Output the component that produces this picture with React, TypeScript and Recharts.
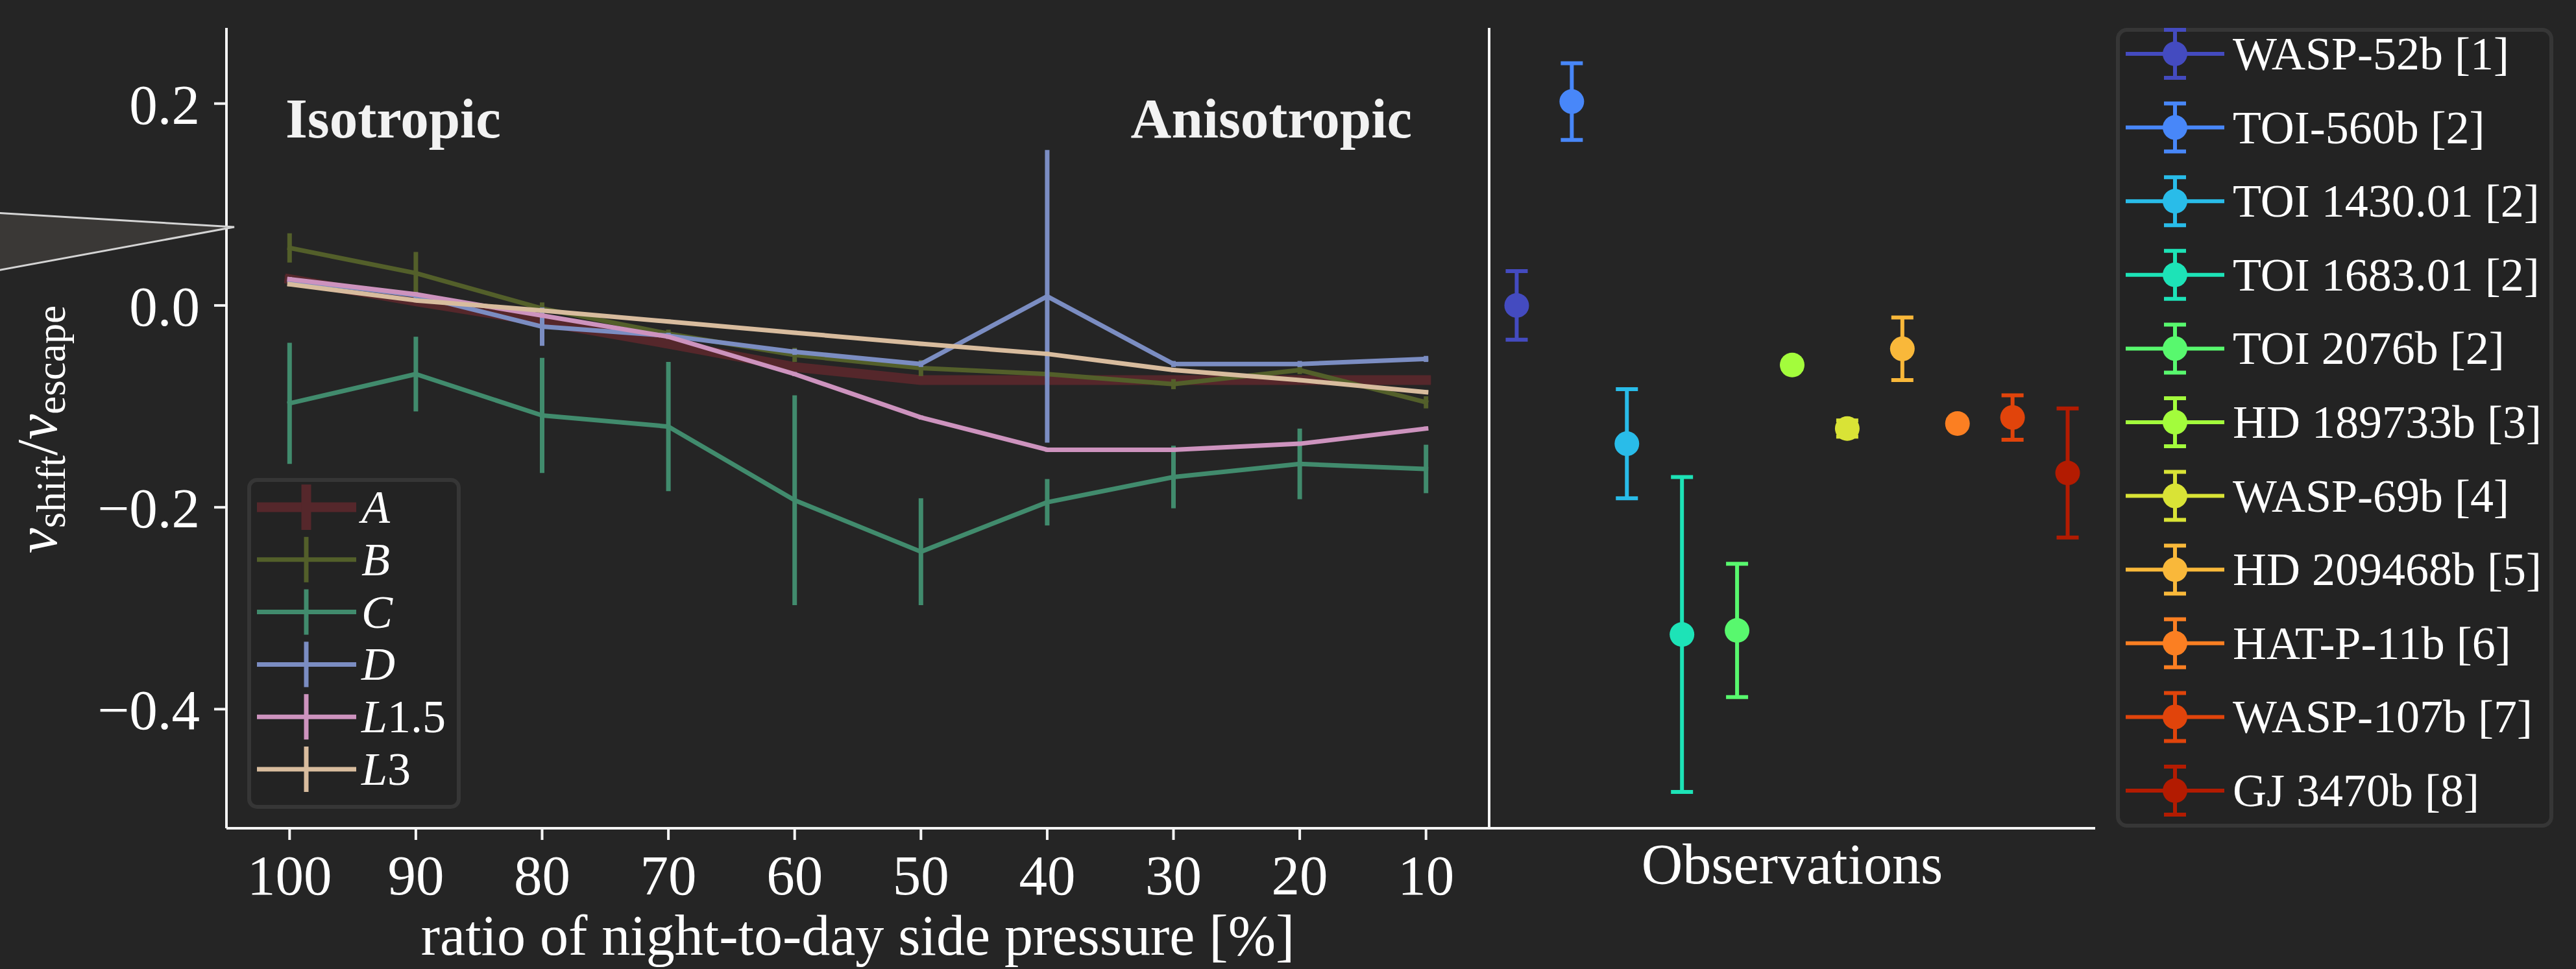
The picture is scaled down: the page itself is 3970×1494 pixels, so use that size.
import React from 'react';
import { LineChart, Line, ScatterChart, Scatter, XAxis, YAxis, ErrorBar } from 'recharts';

// ---- data ----
const ratioTicks = [100, 90, 80, 70, 60, 50, 40, 30, 20, 10];

const modelNames = ['A', 'B', 'C', 'D', 'L1.5', 'L3'];
const modelColors = ['#55272b', '#535f2a', '#418b6d', '#7b8dc2', '#cd93be', '#d8bc9e'];

const valuesA = [0.026, 0.004, -0.016, -0.038, -0.061, -0.074, -0.074, -0.074, -0.074, -0.074];
const errorsA = [0.004, 0.004, 0.004, 0.004, 0.004, 0.004, 0.004, 0.004, 0.004, 0.004];
const valuesB = [0.057, 0.032, -0.003, -0.028, -0.049, -0.062, -0.068, -0.078, -0.064, -0.096];
const errorsB = [0.0145, 0.021, 0.006, 0.004, 0.007, 0.008, 0.004, 0.005, 0.004, 0.006];
const valuesC = [-0.097, -0.068, -0.109, -0.12, -0.193, -0.244, -0.195, -0.17, -0.157, -0.162];
const errorsC = [0.06, 0.037, 0.057, 0.064, 0.104, 0.053, 0.023, 0.031, 0.035, 0.024];
const valuesD = [0.025, 0.01, -0.021, -0.03, -0.046, -0.058, 0.009, -0.058, -0.058, -0.053];
const errorsD = [0.003, 0.003, 0.019, 0.003, 0.003, 0.003, 0.145, 0.003, 0.003, 0.003];
const valuesL15 = [0.026, 0.011, -0.01, -0.031, -0.068, -0.111, -0.143, -0.143, -0.137, -0.122];
const errorsL15 = [0.002, 0.002, 0.002, 0.002, 0.002, 0.002, 0.002, 0.002, 0.002, 0.002];
const valuesL3 = [0.021, 0.005, -0.005, -0.016, -0.027, -0.038, -0.048, -0.064, -0.074, -0.086];
const errorsL3 = [0.002, 0.002, 0.002, 0.002, 0.002, 0.002, 0.002, 0.002, 0.002, 0.002];

const modelValues = [valuesA, valuesB, valuesC, valuesD, valuesL15, valuesL3];
const modelErrors = [errorsA, errorsB, errorsC, errorsD, errorsL15, errorsL3];

const obsNames = [
  'WASP-52b [1]', 'TOI-560b [2]', 'TOI 1430.01 [2]', 'TOI 1683.01 [2]', 'TOI 2076b [2]',
  'HD 189733b [3]', 'WASP-69b [4]', 'HD 209468b [5]', 'HAT-P-11b [6]', 'WASP-107b [7]', 'GJ 3470b [8]',
];
const obsColors = [
  '#444bc0', '#4887f9', '#29bce9', '#1de3b7', '#58f86e',
  '#a3fc3c', '#d9e336', '#f9b83a', '#fb7f22', '#e1440b', '#b31b01',
];
const obsValues = [0.0, 0.202, -0.137, -0.326, -0.322, -0.059, -0.122, -0.043, -0.117, -0.111, -0.166];
const obsErrors = [0.034, 0.038, 0.054, 0.156, 0.066, 0.004, 0.008, 0.031, 0.004, 0.022, 0.064];

const yTicks = [-0.4, -0.2, 0, 0.2];
const yDomain = [-0.518, 0.275];

// ---- tables for recharts ----
const modelRows = ratioTicks.map((ratio, i) => {
  const row: any = { ratio };
  modelValues.forEach((vals, k) => {
    row['m' + k] = vals[i];
    row['e' + k] = modelErrors[k][i];
  });
  return row;
});

const obsRows = obsValues.map((v, i) => ({ idx: i, v, e: obsErrors[i] }));

const SERIF = '"Liberation Serif", "DejaVu Serif", serif';
const BG = '#252525';
const FG = '#f5f5f5';
const frame = { stroke: FG, strokeWidth: 4 };
const tickFont = { fill: '#ffffff', fontSize: 87, fontFamily: SERIF };
const lineW = (k: number) => (k === 0 ? 15 : 7);

const fmtY = (v: number) => (v < 0 ? '\u2212' + Math.abs(v).toFixed(1) : v.toFixed(1));

const mathName = (name: string) => {
  const m = name.match(/^([A-Z]+)(.*)$/);
  if (!m) return name;
  return [
    <tspan key="l" fontStyle="italic">{m[1]}</tspan>,
    m[2] ? <tspan key="d">{m[2]}</tspan> : null,
  ];
};

const ModelPanel = () => (
  <LineChart width={2300} height={1494} data={modelRows}
    margin={{ top: 43, right: 5, bottom: 67, left: 149 }}>
    <XAxis type="number" dataKey="ratio" domain={[5, 105]} reversed allowDataOverflow
      ticks={ratioTicks} interval={0} height={150} tick={tickFont} tickSize={18} tickMargin={22}
      axisLine={frame} tickLine={frame} />
    <XAxis xAxisId="top" orientation="top" type="number" domain={[5, 105]} reversed
      height={0} tick={false} tickLine={false} axisLine={frame} />
    <YAxis type="number" domain={yDomain} allowDataOverflow ticks={yTicks} width={200}
      tickFormatter={fmtY} tick={tickFont} tickSize={19} tickMargin={22}
      axisLine={frame} tickLine={frame} />
    <YAxis yAxisId="right" orientation="right" type="number" domain={yDomain} width={0}
      tick={false} tickLine={false} axisLine={frame} />
    {modelNames.map((name, k) => (
      <Line key={name} type="linear" dataKey={'m' + k} name={name} stroke={modelColors[k]}
        strokeWidth={lineW(k)} strokeLinecap="square" strokeLinejoin="round"
        dot={false} activeDot={false} isAnimationActive={false}>
        <ErrorBar dataKey={'e' + k} width={0} stroke={modelColors[k]} strokeWidth={lineW(k)} />
      </Line>
    ))}
  </LineChart>
);

const ObservationPanel = () => (
  <ScatterChart width={1875} height={1494} margin={{ top: 43, right: 741, bottom: 67, left: 100 }}>
    <XAxis type="number" dataKey="idx" domain={[-0.5, 10.5]} allowDataOverflow height={150}
      tick={false} tickLine={false} axisLine={frame} />
    <XAxis xAxisId="top" orientation="top" type="number" domain={[-0.5, 10.5]}
      height={0} tick={false} tickLine={false} axisLine={frame} />
    <YAxis type="number" dataKey="v" domain={yDomain} allowDataOverflow ticks={yTicks} width={100}
      tick={false} tickSize={20} axisLine={frame} tickLine={frame} />
    <YAxis yAxisId="right" orientation="right" type="number" domain={yDomain} width={0}
      tick={false} tickLine={false} axisLine={frame} />
    {obsNames.map((name, i) => (
      <Scatter key={name} name={name} data={[obsRows[i]]} fill={obsColors[i]}
        isAnimationActive={false}
        shape={(p: any) => <circle cx={p.cx} cy={p.cy} r={19} fill={obsColors[i]} />}>
        <ErrorBar dataKey="e" direction="y" width={17} stroke={obsColors[i]} strokeWidth={6} />
      </Scatter>
    ))}
  </ScatterChart>
);

const Overlay = () => (
  <svg width={3970} height={1494} style={{ position: 'absolute', left: 0, top: 0, pointerEvents: 'none' }}>
    {/* cut-off inset pointer on the far left */}
    <polygon points="-10,328 361,350 -10,418" fill="#3a3836" stroke="#d4d4d4" strokeWidth={3} />

    <text x={440} y={212} fill="#f2f2f2" fontFamily={SERIF} fontWeight="bold" fontSize={87}>Isotropic</text>
    <text x={2176} y={212} fill="#f2f2f2" fontFamily={SERIF} fontWeight="bold" fontSize={87}
      textAnchor="end">Anisotropic</text>

    <text transform="translate(87,662) rotate(-90)" textAnchor="middle" fill="#ffffff"
      fontFamily={SERIF} fontSize={88}>
      <tspan fontStyle="italic">v</tspan>
      <tspan fontSize={63} dy={13}>shift</tspan>
      <tspan dy={-13}>/</tspan>
      <tspan fontStyle="italic">v</tspan>
      <tspan fontSize={63} dy={13}>escape</tspan>
    </text>

    <text x={1322} y={1472} textAnchor="middle" fill="#ffffff" fontFamily={SERIF} fontSize={88}>
      ratio of night-to-day side pressure [%]
    </text>
    <text x={2762} y={1362} textAnchor="middle" fill="#ffffff" fontFamily={SERIF} fontSize={88}>
      Observations
    </text>

    {/* model legend */}
    <rect x={384} y={740} width={323} height={504} rx={12} fill="#232323" stroke="#363636" strokeWidth={6} />
    {modelNames.map((name, k) => {
      const cy = 782 + k * 80.8;
      return (
        <g key={name}>
          <line x1={396} x2={549} y1={cy} y2={cy} stroke={modelColors[k]} strokeWidth={lineW(k)} />
          <line x1={472} x2={472} y1={cy - 35} y2={cy + 35} stroke={modelColors[k]} strokeWidth={lineW(k)} />
          <text x={557} y={cy + 24} fill="#ffffff" fontFamily={SERIF} fontSize={72}>{mathName(name)}</text>
        </g>
      );
    })}

    {/* observation legend */}
    <rect x={3264} y={46} width={668} height={1227} rx={14} fill="#232323" stroke="#363636" strokeWidth={6} />
    {obsNames.map((name, i) => {
      const cy = 83 + i * 113.6;
      const c = obsColors[i];
      return (
        <g key={name}>
          <line x1={3276} x2={3428} y1={cy} y2={cy} stroke={c} strokeWidth={6} />
          <line x1={3352} x2={3352} y1={cy - 37} y2={cy + 37} stroke={c} strokeWidth={6} />
          <line x1={3335} x2={3369} y1={cy - 37} y2={cy - 37} stroke={c} strokeWidth={6} />
          <line x1={3335} x2={3369} y1={cy + 37} y2={cy + 37} stroke={c} strokeWidth={6} />
          <circle cx={3352} cy={cy} r={19} fill={c} />
          <text x={3441} y={cy + 24} fill="#ffffff" fontFamily={SERIF} fontSize={72}>{name}</text>
        </g>
      );
    })}
  </svg>
);

const App = () => (
  <div style={{ position: 'absolute', left: 0, top: 0, width: 3970, height: 1494, background: BG, overflow: 'hidden' }}>
    <div style={{ position: 'absolute', left: 0, top: 0 }}>
      <ModelPanel />
    </div>
    <div style={{ position: 'absolute', left: 2095, top: 0 }}>
      <ObservationPanel />
    </div>
    <Overlay />
  </div>
);

export default App;
